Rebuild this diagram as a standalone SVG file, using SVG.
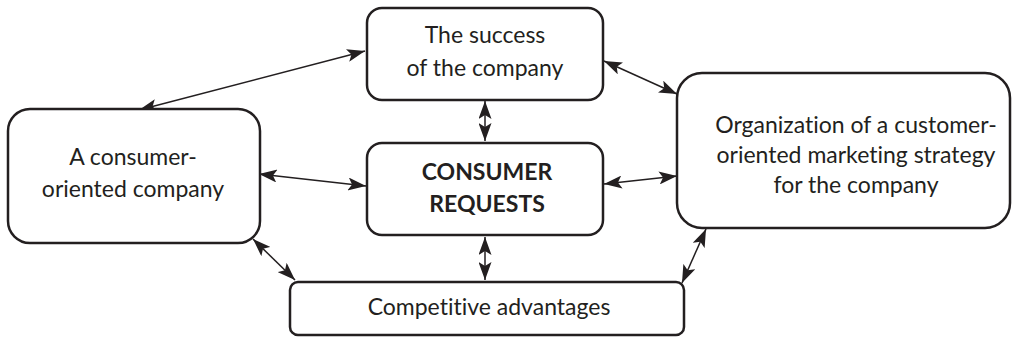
<svg xmlns="http://www.w3.org/2000/svg" width="1012" height="340" viewBox="0 0 1012 340">
<style>
.box{fill:#fff;stroke:#231f20;stroke-width:2.5}
.t{font-family:Lato,"Open Sans",sans-serif;font-size:23px;fill:#231f20;text-anchor:middle;font-variant-ligatures:none}
.b{font-weight:bold}
.c{fill:none;stroke:#231f20;stroke-width:1.5}
</style>
<defs>
<marker id="ah" viewBox="0 0 18 13" refX="18" refY="6.5" markerWidth="18" markerHeight="13" markerUnits="userSpaceOnUse" orient="auto-start-reverse">
<path d="M0,0 L18,6.5 L0,13 L4,6.5 Z" fill="#231f20"/>
</marker>
</defs>
<g id="connectors">
<line class="c" x1="139" y1="110" x2="365" y2="51" marker-start="url(#ah)" marker-end="url(#ah)"/>
<line class="c" x1="604" y1="61" x2="677" y2="94" marker-start="url(#ah)" marker-end="url(#ah)"/>
<line class="c" x1="485" y1="101" x2="485" y2="141" marker-start="url(#ah)" marker-end="url(#ah)"/>
<line class="c" x1="259" y1="174" x2="366" y2="186" marker-start="url(#ah)" marker-end="url(#ah)"/>
<line class="c" x1="604" y1="184" x2="677" y2="176" marker-start="url(#ah)" marker-end="url(#ah)"/>
<line class="c" x1="485" y1="237" x2="485" y2="280" marker-start="url(#ah)" marker-end="url(#ah)"/>
<line class="c" x1="253" y1="239" x2="295" y2="280" marker-start="url(#ah)" marker-end="url(#ah)"/>
<line class="c" x1="706" y1="229" x2="682" y2="283" marker-start="url(#ah)" marker-end="url(#ah)"/>
</g>
<g id="success">
<rect class="box" x="367" y="8" width="236" height="92" rx="15"/>
<text class="t" x="485" y="43">The success</text>
<text class="t" x="485" y="76">of the company</text>
</g>
<g id="consumer-company">
<rect class="box" x="8" y="109" width="252" height="134" rx="22"/>
<text class="t" x="133" y="165">A consumer-</text>
<text class="t" x="133" y="197">oriented company</text>
</g>
<g id="requests">
<rect class="box" x="367" y="143" width="236" height="92" rx="15"/>
<text class="t b" x="487" y="180">CONSUMER</text>
<text class="t b" x="487" y="212">REQUESTS</text>
</g>
<g id="organization">
<rect class="box" x="677" y="73" width="333" height="155" rx="25"/>
<text class="t" x="856" y="133">Organization of a customer-</text>
<text class="t" x="856" y="163">oriented marketing strategy</text>
<text class="t" x="856" y="193">for the company</text>
</g>
<g id="competitive">
<rect class="box" x="290" y="282" width="394" height="53" rx="8"/>
<text class="t" x="489" y="315">Competitive advantages</text>
</g>
</svg>
